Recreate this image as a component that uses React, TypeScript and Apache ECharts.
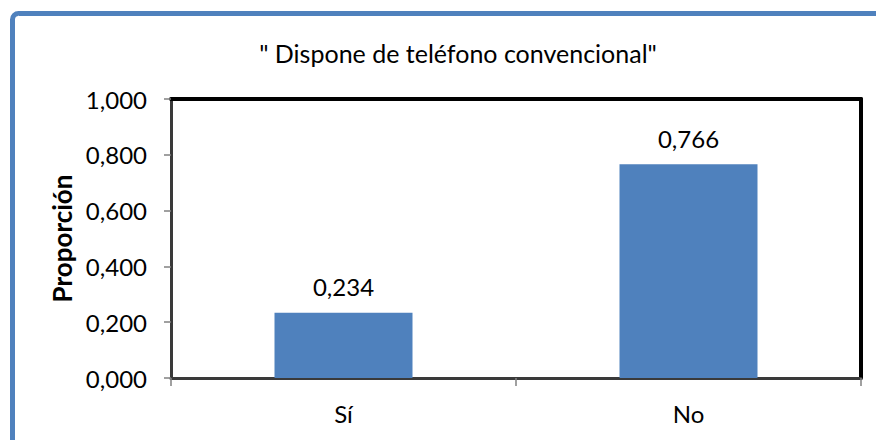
import React, { useEffect, useRef } from "react";
import * as echarts from "echarts";

const categories = ["Sí", "No"];
const values = [0.234, 0.766];
const yTicks = { min: 0, max: 1, interval: 0.2 };
const titleText = "\" Dispone de teléfono convencional\"";
const yName = "Proporción";

const FONT = "Lato, 'Open Sans', sans-serif";
const fmt = (v: number) => v.toFixed(3).replace(".", ",");

export default function App() {
  const ref = useRef<HTMLDivElement>(null);
  useEffect(() => {
    if (!ref.current) return;
    const chart = echarts.init(ref.current, null, { renderer: "svg" });
    chart.setOption({
      animation: false,
      backgroundColor: "#ffffff",
      textStyle: { fontFamily: FONT },
      title: {
        text: titleText,
        left: 453,
        top: 35,
        textAlign: "center",
        textStyle: { fontFamily: FONT, fontSize: 25, fontWeight: "normal", color: "#000" },
      },
      graphic: [
        {
          type: "rect",
          shape: { x: 12.5, y: 13.5, width: 960, height: 600, r: 6 },
          style: { fill: "none", stroke: "#4f81bd", lineWidth: 5 },
          silent: true,
        },
      ],
      grid: { left: 171, right: 15, top: 99, bottom: 62, containLabel: false },
      xAxis: [
        {
          type: "category",
          data: categories,
          position: "bottom",
          axisLine: { show: true, onZero: false, lineStyle: { color: "#3a3a3a", width: 3 } },
          axisTick: { show: true, length: 8, lineStyle: { color: "#808080", width: 1.5 } },
          axisLabel: { margin: 23, fontFamily: FONT, fontSize: 24, color: "#000" },
          splitLine: { show: false },
        },
        {
          type: "category",
          data: categories,
          position: "top",
          axisLine: { show: true, onZero: false, lineStyle: { color: "#000", width: 4 } },
          axisTick: { show: false },
          axisLabel: { show: false },
        },
      ],
      yAxis: [
        {
          type: "value",
          min: yTicks.min,
          max: yTicks.max,
          interval: yTicks.interval,
          name: yName,
          nameLocation: "middle",
          nameRotate: 90,
          nameGap: 93,
          nameTextStyle: { fontFamily: FONT, fontSize: 26, fontWeight: "bold", color: "#000" },
          axisLine: { show: true, onZero: false, lineStyle: { color: "#3a3a3a", width: 3 } },
          axisTick: { show: true, length: 7, lineStyle: { color: "#808080", width: 1.5 } },
          axisLabel: { margin: 24, fontFamily: FONT, fontSize: 24, color: "#000", formatter: (v: number) => fmt(v) },
          splitLine: { show: false },
        },
        {
          type: "value",
          min: yTicks.min,
          max: yTicks.max,
          interval: yTicks.interval,
          position: "right",
          axisLine: { show: true, onZero: false, lineStyle: { color: "#000", width: 4 } },
          axisTick: { show: false },
          axisLabel: { show: false },
          splitLine: { show: false },
        },
      ],
      series: [
        {
          type: "bar",
          data: values,
          barWidth: "40%",
          itemStyle: { color: "#4f81bd" },
          label: {
            show: true,
            position: "top",
            distance: 14,
            fontFamily: FONT,
            fontSize: 24,
            color: "#000",
            formatter: (p: any) => fmt(p.value),
          },
        },
      ],
    });
    return () => chart.dispose();
  }, []);
  return (
    <div
      ref={ref}
      style={{ position: "fixed", left: 0, top: 0, width: 876, height: 440 }}
    />
  );
}
